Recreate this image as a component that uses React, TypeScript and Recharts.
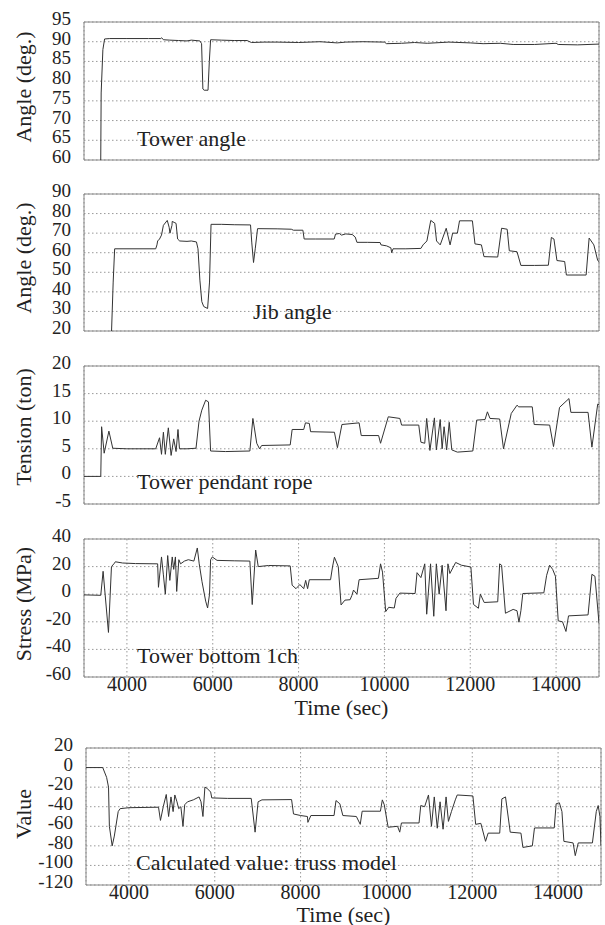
import React from 'react';
import { LineChart, Line, XAxis, YAxis, CartesianGrid, ReferenceArea } from 'recharts';

const timeTicks = [4000, 6000, 8000, 10000, 12000, 14000];
const towerAngleTicks = [60, 65, 70, 75, 80, 85, 90, 95];
const jibAngleTicks = [20, 30, 40, 50, 60, 70, 80, 90];
const tensionTicks = [-5, 0, 5, 10, 15, 20];
const stressTicks = [-60, -40, -20, 0, 20, 40];
const calcTicks = [-120, -100, -80, -60, -40, -20, 0, 20];

// [time (sec), value]
const towerAngle: [number, number][] = [
  [3390, 60], [3400, 77], [3440, 88], [3480, 90.7], [3600, 90.8], [4000, 90.8], [4500, 90.8], [4790, 90.8],
  [4810, 91.0], [4850, 90.5], [5000, 90.4], [5200, 90.3], [5400, 90.2], [5500, 90.4], [5700, 90.2], [5740, 89.5],
  [5770, 78], [5800, 77.7], [5890, 77.7], [5920, 85], [5950, 90.5], [6200, 90.4], [6500, 90.3], [6800, 90.3],
  [6900, 89.8], [7200, 89.9], [7500, 89.9], [8000, 89.8], [8500, 90.0], [8900, 89.7], [9100, 89.9], [9500, 90],
  [10000, 89.9], [10050, 89.5], [10400, 89.6], [10700, 89.8], [11000, 89.6], [11500, 89.9], [12000, 89.7],
  [12300, 89.5], [12700, 89.6], [13000, 89.3], [13500, 89.3], [14000, 89.6], [14050, 89.3], [14500, 89.2], [15000, 89.4],
];

const jibAngle: [number, number][] = [
  [3642, 20], [3680, 45], [3714, 62], [4671, 62], [4700, 64], [4716, 66], [4760, 67], [4806, 69], [4850, 74],
  [4940, 76.5], [4984, 73], [5003, 70], [5050, 74], [5056, 76], [5100, 75.5], [5145, 75], [5181, 67], [5230, 66],
  [5400, 65.8], [5500, 66], [5620, 65.5], [5656, 62], [5700, 46], [5745, 35], [5790, 32.5], [5880, 31.5],
  [5925, 45], [5960, 74.5], [6200, 74.5], [6500, 74.3], [6880, 74.2], [6910, 65], [6950, 55], [6990, 62],
  [7044, 72.3], [7500, 72.2], [7830, 72], [7880, 71.5], [8100, 71.5], [8130, 67], [8400, 67], [8830, 67],
  [8860, 69.5], [8950, 69.8], [9000, 69], [9100, 69.6], [9250, 69.3], [9320, 68], [9360, 65.3], [9600, 65.3],
  [9900, 65.2], [9920, 64], [10050, 63.5], [10150, 62.5], [10170, 60], [10200, 62], [10500, 62], [10850, 62.2],
  [10900, 64], [10990, 66], [11080, 76.5], [11170, 75], [11215, 66], [11300, 64], [11440, 72.5], [11530, 64],
  [11590, 70], [11700, 70], [11750, 76.3], [12050, 76.3], [12110, 64.5], [12260, 64], [12320, 58], [12640, 57.8],
  [12730, 72.5], [12860, 72], [12910, 61], [13090, 60.5], [13180, 53.5], [13500, 53.5], [13820, 53.6],
  [13890, 67.8], [13950, 67], [14020, 56], [14200, 55.5], [14240, 48.6], [14700, 48.6], [14770, 67.5],
  [14880, 64], [14970, 56], [15000, 55.5],
];

const pendantTension: [number, number][] = [
  [3000, 0], [3391, 0], [3410, 9], [3470, 4.2], [3580, 8.2], [3670, 5.1], [4000, 5], [4671, 5], [4760, 7],
  [4806, 4], [4850, 8], [4895, 4], [4965, 8.8], [5030, 3.8], [5090, 6.8], [5145, 4.5], [5190, 8.5], [5225, 5],
  [5400, 5], [5610, 5.1], [5680, 10], [5745, 12], [5835, 13.8], [5900, 13.5], [5950, 4.6], [6300, 4.5],
  [6865, 4.6], [6935, 10.5], [7025, 6], [7090, 5], [7140, 5.6], [7805, 5.7], [7850, 8.5], [8120, 8.5],
  [8160, 9.7], [8250, 9.6], [8280, 8.1], [8835, 8], [8905, 5.2], [9010, 9.4], [9410, 9.7], [9460, 7.4],
  [9865, 7.4], [9910, 6], [10090, 10.8], [10360, 10.5], [10400, 9.3], [10800, 9.3], [10850, 6.2], [10940, 6],
  [10985, 10.5], [11060, 4.7], [11165, 10.6], [11210, 4.8], [11300, 10.3], [11345, 5], [11390, 9], [11450, 4.8],
  [11510, 9.8], [11570, 4.8], [11700, 4.4], [12060, 4.6], [12150, 10.2], [12345, 10.3], [12400, 11.7],
  [12460, 10.5], [12685, 10.4], [12775, 5], [12955, 11.4], [13090, 12.9], [13130, 12.6], [13445, 12.6],
  [13490, 9.4], [13850, 9.3], [13940, 5.4], [14080, 12.5], [14300, 14.1], [14345, 11.6], [14745, 11.6],
  [14835, 5.3], [14970, 13.1], [15000, 13],
];

const bottomStress: [number, number][] = [
  [3000, -0.5], [3391, -0.8], [3445, 16.6], [3570, -27.7], [3640, 20], [3710, 22.5], [3730, 23.5], [3900, 22.6],
  [4200, 22.2], [4716, 22], [4735, 5], [4806, 27], [4850, 14], [4895, 0], [4950, 28], [5000, 10], [5056, 27],
  [5090, 18], [5130, 27], [5160, 2], [5210, 25], [5250, 22], [5340, 24], [5430, 25], [5560, 24], [5640, 33.5],
  [5685, 22], [5750, 9], [5835, -5], [5880, -10], [5925, 0], [5950, 25], [5990, 27], [6100, 24.5], [6500, 24.2],
  [6865, 24], [6920, -7.5], [7000, 32], [7060, 20], [7300, 20.8], [7805, 20.5], [7850, 6.5], [7940, 4],
  [8030, 7], [8120, 4], [8165, 10], [8210, 4], [8250, 10.5], [8745, 10.5], [8790, 19.7], [8835, 26.8],
  [8925, 20], [8990, -7.8], [9080, -4.3], [9200, -4], [9240, -1], [9280, 3], [9360, 0], [9410, 10.5],
  [9860, 11.5], [9910, 22], [9955, 16], [10030, -12.6], [10100, -9.5], [10230, -10], [10270, -3], [10360, 0.8],
  [10715, 0.5], [10760, 15.6], [10850, 12], [10940, 22], [10985, -14.5], [11075, 22], [11150, -16], [11210, 22],
  [11275, 0], [11345, 21], [11435, -12], [11480, 22], [11525, 15], [11660, 23], [11795, 21], [12015, 19.7],
  [12075, -7.4], [12190, -10.2], [12235, 0], [12325, -6], [12640, -5.5], [12685, 22], [12730, 21],
  [12820, -13.8], [13000, -11], [13090, -12], [13135, -20.3], [13180, -12], [13225, 0.5], [13715, 1],
  [13780, 13.7], [13850, 21], [13920, 18], [13985, 13], [14050, -19.3], [14150, -20], [14230, -27],
  [14290, -15.7], [14745, -15], [14835, 14.4], [14905, 13], [15000, -21],
];

const trussValue: [number, number][] = [
  [3000, 0], [3390, 0], [3480, -10], [3525, -20], [3545, -60], [3610, -80], [3660, -70], [3750, -45],
  [3795, -42], [4000, -41], [4690, -40.5], [4735, -54], [4800, -40], [4870, -27.5], [4925, -50], [4980, -30],
  [5030, -45], [5070, -28], [5120, -35], [5160, -42], [5210, -40], [5260, -60], [5300, -38], [5365, -35],
  [5500, -33], [5635, -30], [5680, -35], [5725, -50], [5770, -20], [5815, -21], [5905, -25], [5930, -31],
  [6300, -31.5], [6850, -31.5], [6940, -66], [7010, -35], [7100, -33], [7790, -32.7], [7835, -47.4],
  [8000, -49], [8160, -50], [8170, -56], [8240, -49], [8780, -49], [8825, -33.7], [8915, -37], [8985, -49],
  [9300, -50], [9390, -58], [9435, -44.6], [9860, -44.6], [9905, -33], [9950, -38], [10040, -61], [10260, -60],
  [10310, -66], [10350, -56.6], [10760, -56.6], [10800, -38.8], [10890, -40], [10980, -28], [11050, -60],
  [11115, -30], [11185, -62], [11250, -35], [11320, -63], [11390, -30], [11445, -55], [11515, -45],
  [11605, -33], [11650, -28], [12015, -29], [12080, -58], [12200, -57], [12310, -75.4], [12370, -67],
  [12640, -67], [12690, -32], [12775, -30], [12885, -66], [13135, -67], [13180, -81.6], [13400, -80],
  [13450, -61.7], [13910, -61.7], [13955, -37], [14030, -36], [14090, -45], [14135, -75.4], [14350, -77],
  [14400, -90], [14470, -77], [14800, -77], [14890, -45], [14935, -38.8], [14975, -50], [15000, -80],
];

const FONT = 'Liberation Serif, DejaVu Serif, serif';
const TEXT = '#222';

type PanelCfg = {
  data: [number, number][];
  domain: [number, number];
  ticks: number[];
  top: number;
  bottom: number;
  left: number;
  right: number;
  ylabel: string;
  ylabelY: number;
  note: string;
  noteX: number;
  noteY: number;
  timeY?: number;
};

const panels: PanelCfg[] = [
  { data: towerAngle, domain: [60, 95], ticks: towerAngleTicks, top: 22, bottom: 160, left: 84, right: 599,
    ylabel: 'Angle (deg.)', ylabelY: 87, note: 'Tower angle', noteX: 137, noteY: 146 },
  { data: jibAngle, domain: [20, 90], ticks: jibAngleTicks, top: 194, bottom: 331, left: 84, right: 599,
    ylabel: 'Angle (deg.)', ylabelY: 258, note: 'Jib angle', noteX: 253, noteY: 319 },
  { data: pendantTension, domain: [-5, 20], ticks: tensionTicks, top: 366, bottom: 504, left: 84, right: 599,
    ylabel: 'Tension (ton)', ylabelY: 427, note: 'Tower pendant rope', noteX: 137, noteY: 489 },
  { data: bottomStress, domain: [-60, 40], ticks: stressTicks, top: 539, bottom: 677, left: 84, right: 599,
    ylabel: 'Stress (MPa)', ylabelY: 604, note: 'Tower bottom 1ch', noteX: 137, noteY: 663, timeY: 707 },
  { data: trussValue, domain: [-120, 20], ticks: calcTicks, top: 748, bottom: 885, left: 86, right: 601,
    ylabel: 'Value', ylabelY: 814, note: 'Calculated value: truss model', noteX: 136, noteY: 870, timeY: 914 },
];

const YTick = (p: any) => (
  <text x={p.x} y={p.y} dy={3} textAnchor="end" style={{ fontSize: 19, fontFamily: FONT }} fill={TEXT}>
    {p.payload.value}
  </text>
);

const XTick = (p: any) => (
  <text x={p.x} y={p.y} dy={13} textAnchor="middle" style={{ fontSize: 20, fontFamily: FONT }} fill={TEXT}>
    {p.payload.value}
  </text>
);

function Panel({ cfg }: { cfg: PanelCfg }) {
  const mt = 16;
  const plotH = cfg.bottom - cfg.top;
  const hasX = cfg.timeY !== undefined;
  const xh = hasX ? 45 : 0;
  const mb = hasX ? 0 : 12;
  const height = mt + plotH + xh + mb;
  const chartTop = cfg.top - mt;
  const data = cfg.data.map(([t, v]) => ({ t, v }));
  const ts = { fontSize: 22, fontFamily: FONT };
  const texts = () => (
    <g>
      <text
        transform={`translate(23, ${cfg.ylabelY - chartTop}) rotate(-90)`}
        textAnchor="middle"
        dominantBaseline="central"
        style={ts}
        fill={TEXT}
      >
        {cfg.ylabel}
      </text>
      <text x={cfg.noteX} y={cfg.noteY - chartTop} style={ts} fill={TEXT}>
        {cfg.note}
      </text>
      {hasX && (
        <text
          x={(cfg.left + cfg.right) / 2}
          y={(cfg.timeY as number) - chartTop}
          textAnchor="middle"
          dominantBaseline="central"
          style={ts}
          fill={TEXT}
        >
          Time (sec)
        </text>
      )}
    </g>
  );
  return (
    <div style={{ position: 'absolute', left: 0, top: chartTop }}>
      <LineChart width={605} height={height} data={data} margin={{ top: mt, right: 605 - cfg.right, left: 0, bottom: mb }}>
        <CartesianGrid stroke="#999" strokeDasharray="1.5 2.5" />
        <XAxis
          dataKey="t"
          type="number"
          domain={[3000, 15000]}
          ticks={timeTicks}
          allowDataOverflow
          height={xh}
          axisLine={false}
          tickLine={false}
          tickSize={0}
          tickMargin={1}
          interval={0}
          tick={hasX ? <XTick /> : false}
        />
        <YAxis
          type="number"
          domain={cfg.domain}
          ticks={cfg.ticks}
          allowDataOverflow
          width={cfg.left}
          axisLine={false}
          tickLine={false}
          tickSize={0}
          tickMargin={13}
          interval={0}
          tick={<YTick />}
          label={{ content: texts }}
        />
        <ReferenceArea x1={3000} x2={15000} y1={cfg.domain[0]} y2={cfg.domain[1]} fill="none" stroke="#888" strokeWidth={1} />
        <Line dataKey="v" type="linear" dot={false} stroke="#333" strokeWidth={1} isAnimationActive={false} />
      </LineChart>
    </div>
  );
}

export default function App() {
  return (
    <div style={{ position: 'absolute', left: 0, top: 0, width: 605, height: 925, background: '#fff', fontFamily: FONT }}>
      {panels.map((cfg, i) => (
        <Panel key={i} cfg={cfg} />
      ))}
    </div>
  );
}
